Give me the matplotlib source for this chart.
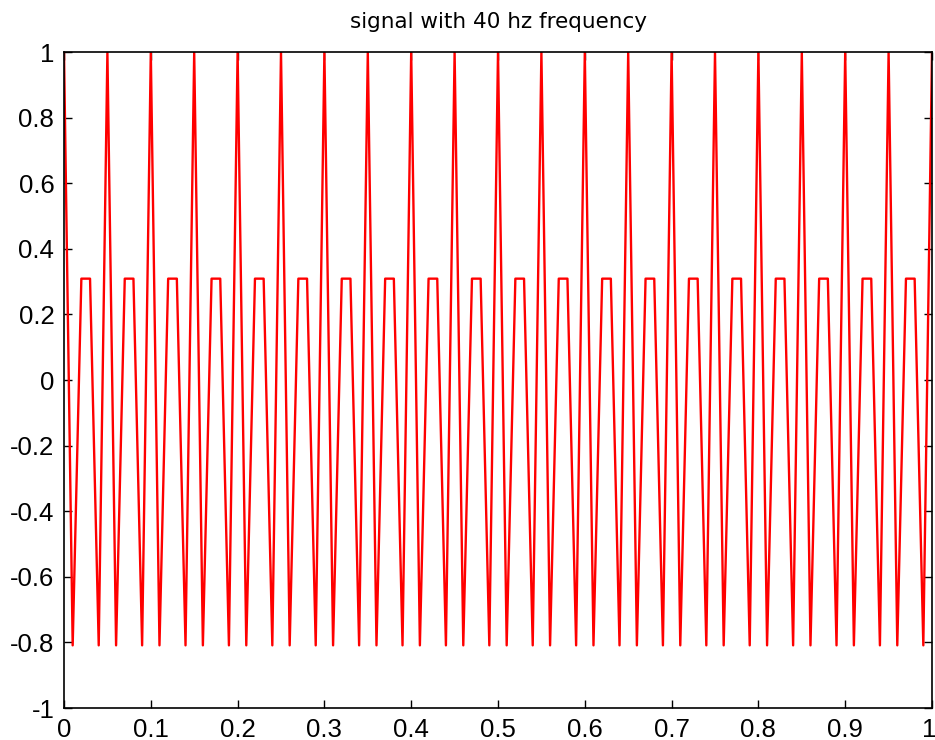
import matplotlib
matplotlib.use("Agg")
import matplotlib.pyplot as plt
from matplotlib.ticker import FixedLocator, FuncFormatter
from matplotlib.transforms import ScaledTranslation

plt.rcParams['axes.unicode_minus'] = False
plt.rcParams['font.family'] = ['Liberation Sans', 'DejaVu Sans']

title_text = "signal with 40 hz frequency"

# sample times (s), sampled every 0.01 s
t_samples = [0.00, 0.01, 0.02, 0.03, 0.04, 0.05, 0.06, 0.07, 0.08, 0.09,
             0.10, 0.11, 0.12, 0.13, 0.14, 0.15, 0.16, 0.17, 0.18, 0.19,
             0.20, 0.21, 0.22, 0.23, 0.24, 0.25, 0.26, 0.27, 0.28, 0.29,
             0.30, 0.31, 0.32, 0.33, 0.34, 0.35, 0.36, 0.37, 0.38, 0.39,
             0.40, 0.41, 0.42, 0.43, 0.44, 0.45, 0.46, 0.47, 0.48, 0.49,
             0.50, 0.51, 0.52, 0.53, 0.54, 0.55, 0.56, 0.57, 0.58, 0.59,
             0.60, 0.61, 0.62, 0.63, 0.64, 0.65, 0.66, 0.67, 0.68, 0.69,
             0.70, 0.71, 0.72, 0.73, 0.74, 0.75, 0.76, 0.77, 0.78, 0.79,
             0.80, 0.81, 0.82, 0.83, 0.84, 0.85, 0.86, 0.87, 0.88, 0.89,
             0.90, 0.91, 0.92, 0.93, 0.94, 0.95, 0.96, 0.97, 0.98, 0.99,
             1.00]

# signal values
signal_values = [1.0, -0.809, 0.309, 0.309, -0.809,
                 1.0, -0.809, 0.309, 0.309, -0.809,
                 1.0, -0.809, 0.309, 0.309, -0.809,
                 1.0, -0.809, 0.309, 0.309, -0.809,
                 1.0, -0.809, 0.309, 0.309, -0.809,
                 1.0, -0.809, 0.309, 0.309, -0.809,
                 1.0, -0.809, 0.309, 0.309, -0.809,
                 1.0, -0.809, 0.309, 0.309, -0.809,
                 1.0, -0.809, 0.309, 0.309, -0.809,
                 1.0, -0.809, 0.309, 0.309, -0.809,
                 1.0, -0.809, 0.309, 0.309, -0.809,
                 1.0, -0.809, 0.309, 0.309, -0.809,
                 1.0, -0.809, 0.309, 0.309, -0.809,
                 1.0, -0.809, 0.309, 0.309, -0.809,
                 1.0, -0.809, 0.309, 0.309, -0.809,
                 1.0, -0.809, 0.309, 0.309, -0.809,
                 1.0, -0.809, 0.309, 0.309, -0.809,
                 1.0, -0.809, 0.309, 0.309, -0.809,
                 1.0, -0.809, 0.309, 0.309, -0.809,
                 1.0, -0.809, 0.309, 0.309, -0.809,
                 1.0]

x_ticks = [0, 0.1, 0.2, 0.3, 0.4, 0.5, 0.6, 0.7, 0.8, 0.9, 1]
y_ticks = [-1, -0.8, -0.6, -0.4, -0.2, 0, 0.2, 0.4, 0.6, 0.8, 1]

fig = plt.figure(figsize=(9.35, 7.40), dpi=100)
ax = fig.add_axes([64/935, 32/740, (932-64)/935, (708-52)/740])

ax.plot(t_samples, signal_values, color='#ff0000', linewidth=1.7)

ax.set_xlim(0, 1)
ax.set_ylim(-1, 1)
ax.xaxis.set_major_locator(FixedLocator(x_ticks))
ax.yaxis.set_major_locator(FixedLocator(y_ticks))
fmt = FuncFormatter(lambda v, p: ("%g" % round(v, 2)))
ax.xaxis.set_major_formatter(fmt)
ax.yaxis.set_major_formatter(fmt)
ax.tick_params(direction='in', length=6, width=1, top=True, right=True,
               labelsize=18.5, pad=7, colors='black')
for s in ax.spines.values():
    s.set_linewidth(1.2)
    s.set_zorder(3)

# keep the last x label inside the canvas
fig.canvas.draw()
xlabels = ax.get_xticklabels()
xlabels[-1].set_transform(xlabels[-1].get_transform() +
                          ScaledTranslation(-3/100, 0, fig.dpi_scale_trans))

ax.set_title(title_text, fontsize=15.5, pad=17, family=['DejaVu Sans'])

fig.savefig("out.png", dpi=100, facecolor='white')
